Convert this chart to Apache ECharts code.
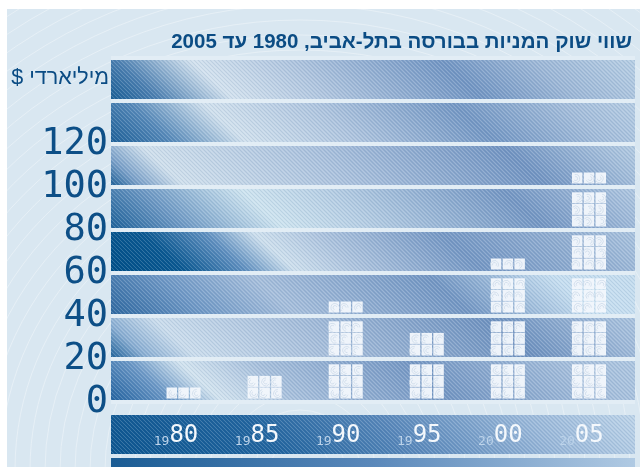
<!DOCTYPE html>
<html>
<head>
<meta charset="utf-8">
<script src="https://cdn.jsdelivr.net/npm/echarts@6/dist/echarts.min.js"></script>
<style>
html,body{margin:0;padding:0;background:#fff;}
#chart{width:640px;height:467px;}
</style>
</head>
<body>
<div id="chart" dir="rtl"></div>
<script>
// ---- data ----
const categories = ['1980', '1985', '1990', '1995', '2000', '2005'];
const values = [6, 12, 46, 33, 66, 106];
const yTicks = [0, 20, 40, 60, 80, 100, 120];
const titleText = 'שווי שוק המניות בבורסה בתל-אביב, 1980 עד 2005';
const unitText = 'מיליארדי $';

// ---- styling helpers ----
const G = echarts.graphic.LinearGradient;
function diag(stops) {
  return new G(0, 1, 0.537, -6.22, stops.map(s => ({offset: s[0], color: s[1]})));
}
const bandColors = [
  diag([[0,'#2363a0'],[0.1,'#6c98c6'],[0.18,'#d2e3ef'],[0.3,'#a8c0dc'],[0.55,'#7597c3'],[0.8,'#a5bedb'],[1,'#b3cbe3']]),
  diag([[0,'#1d6199'],[0.06,'#8aaed2'],[0.14,'#cadcec'],[0.35,'#a8bfdb'],[0.68,'#6f92bf'],[0.85,'#9fb9d8'],[1,'#b7cfe5']]),
  diag([[0,'#2e68a0'],[0.15,'#6f98c5'],[0.3,'#a6bedb'],[0.58,'#7497c3'],[0.78,'#c6def0'],[1,'#c2daec']]),
  diag([[0,'#004f88'],[0.12,'#0a5891'],[0.22,'#5f8fbf'],[0.3,'#cddfed'],[0.4,'#aec4de'],[0.6,'#7698c4'],[0.8,'#94b0d2'],[1,'#b9d0e6']]),
  diag([[0,'#1d6199'],[0.12,'#6d98c3'],[0.28,'#cde3ef'],[0.42,'#b5cde3'],[0.7,'#7597c3'],[0.85,'#9fb9d8'],[1,'#c3d8ea']]),
  diag([[0,'#1a5e96'],[0.05,'#7aa0c8'],[0.12,'#cfdfec'],[0.4,'#a9c0dc'],[0.7,'#7395c2'],[0.85,'#a2bcd9'],[1,'#c8ddec']]),
  diag([[0,'#1d6098'],[0.1,'#5588b8'],[0.22,'#d0e0ed'],[0.4,'#aec4de'],[0.62,'#7598c4'],[0.8,'#a4bdda'],[1,'#c0d6e9']]),
  diag([[0,'#195e95'],[0.08,'#4d80b1'],[0.2,'#d2e1ee'],[0.35,'#b1c6df'],[0.6,'#7396c3'],[0.75,'#9db7d6'],[1,'#c3d9ea']])
];

// fine diagonal hatch pattern
const pc = document.createElement('canvas');
pc.width = 4; pc.height = 4;
const pctx = pc.getContext('2d');
for (let i = 0; i < 4; i++) {
  pctx.fillStyle = 'rgba(255,255,255,0.18)';
  pctx.fillRect(i, i, 1, 1);
  pctx.fillStyle = 'rgba(0,40,90,0.07)';
  pctx.fillRect(i, (i + 2) % 4, 1, 1);
}
const hatch = {image: pc, repeat: 'repeat'};

// background arcs
const bgEls = [];
for (let r = 30; r < 760; r += 15) {
  bgEls.push({type: 'circle', z: -20, silent: true,
    shape: {cx: 300, cy: 470, r: r},
    style: {fill: null, stroke: 'rgba(255,255,255,0.35)', lineWidth: 1}});
}
bgEls.push({type: 'rect', z: -15, silent: true, shape: {x: 0, y: 0, width: 640, height: 9}, style: {fill: '#ffffff'}});
bgEls.push({type: 'rect', z: -15, silent: true, shape: {x: 0, y: 0, width: 7, height: 467}, style: {fill: '#ffffff'}});
// x-axis strip and bottom strip
bgEls.push({type: 'rect', z: -5, silent: true, shape: {x: 111, y: 415, width: 524, height: 39},
  style: {fill: diag([[0,'#0d5690'],[0.3,'#22659f'],[0.55,'#5b89bb'],[0.8,'#9ab8d9'],[1,'#bcd3e8']])}});
bgEls.push({type: 'rect', z: -4, silent: true, shape: {x: 111, y: 415, width: 524, height: 39}, style: {fill: hatch}});
bgEls.push({type: 'rect', z: -5, silent: true, shape: {x: 111, y: 458, width: 524, height: 20},
  style: {fill: new G(0, 0, 1, 0, [{offset: 0, color: '#1a5c94'}, {offset: 0.5, color: '#5a88ba'}, {offset: 1, color: '#b0cae3'}])}});

const chart = echarts.init(document.getElementById('chart'), null, {renderer: 'canvas'});
chart.setOption({
  backgroundColor: '#d9e7f1',
  animation: false,
  title: [
    {text: titleText, right: 8, top: 32, padding: 0,
     textStyle: {fontFamily: 'Liberation Sans, Arial, sans-serif', fontSize: 20.5, fontWeight: 'bold', color: '#0b4c84'}},
    {text: unitText, right: 531, top: 67, padding: 0,
     textStyle: {fontFamily: 'Liberation Sans, Arial, sans-serif', fontSize: 21.5, fontWeight: 'normal', color: '#0b4c84'}}
  ],
  graphic: bgEls,
  grid: [
    {left: 111, right: 5, top: 58, bottom: 65},
    {left: 143, right: 10.5, top: 58, bottom: 65}
  ],
  xAxis: [
    {gridIndex: 0, type: 'value', min: 0, max: 1, show: false},
    {gridIndex: 1, type: 'category', data: categories, boundaryGap: true,
     axisLine: {show: false}, axisTick: {show: false}, splitLine: {show: false},
     axisLabel: {
       margin: 35, verticalAlign: 'middle', padding: [0, 15, 0, 0],
       formatter: c => '{s|' + c.slice(0, 2) + '}{b|' + c.slice(2) + '}',
       rich: {
         s: {fontFamily: 'DejaVu Sans Mono, monospace', fontSize: 13, color: '#bcd3ea', verticalAlign: 'bottom', lineHeight: 22},
         b: {fontFamily: 'DejaVu Sans Mono, monospace', fontSize: 24, color: '#f4f8fc', verticalAlign: 'bottom', lineHeight: 22}
       }
     }}
  ],
  yAxis: [
    {gridIndex: 0, type: 'value', min: 0, max: 160, interval: 20,
     axisLine: {show: false}, axisTick: {show: false},
     axisLabel: {margin: 3, fontFamily: 'DejaVu Sans Mono, monospace', fontSize: 37, color: '#0d4f87',
                 formatter: v => yTicks.includes(v) ? String(v) : ''},
     splitLine: {show: true, lineStyle: {color: '#e2edf5', width: 4}},
     splitArea: {show: true, areaStyle: {color: bandColors}}},
    {gridIndex: 1, type: 'value', min: 0, max: 160, interval: 20, show: false},
    {gridIndex: 0, type: 'value', min: 0, max: 160, interval: 20, z: 1,
     axisLine: {show: false}, axisTick: {show: false}, axisLabel: {show: false},
     splitLine: {show: true, lineStyle: {color: '#e2edf5', width: 4}},
     splitArea: {show: true, areaStyle: {color: [hatch]}}}
  ],
  series: [{
    type: 'custom',
    xAxisIndex: 1, yAxisIndex: 1,
    z: 5,
    data: values.map((v, i) => [i, v]),
    encode: {x: 0, y: 1},
    renderItem: function (params, api) {
      const idx = api.value(0), v = api.value(1);
      const cx = api.coord([idx, 0])[0];
      const bandPx = api.size([0, 20])[1];
      const catW = api.size([1, 0])[0];
      const w = catW * 34 / 81;
      const gap = 1.3;
      const cw = (w - 2 * gap) / 3;
      const rowH = bandPx * 11 / 43, rowStep = bandPx * 11.6 / 43, inset = bandPx * 3.5 / 43;
      const rows = Math.round(v / (20 / 3));
      const children = [];
      for (let r = 0; r < rows; r++) {
        const b = Math.floor(r / 3), k = r % 3;
        const yb = api.coord([idx, 20 * b])[1];
        const bottom = yb - inset - k * rowStep;
        for (let c = 0; c < 3; c++) {
          const x = cx - w / 2 + c * (cw + gap);
          const y = bottom - rowH;
          children.push({type: 'rect', shape: {x: x, y: y, width: cw, height: rowH},
            style: {fill: 'rgba(243,247,252,0.96)'}});
          const ax = x + cw * (((r + c) % 2) ? 0.35 : 0.6), ay = y + rowH * 0.55;
          [2, 4].forEach(rr => children.push({type: 'arc',
            shape: {cx: ax, cy: ay, r: rr, startAngle: 0.3 * (r + c), endAngle: 0.3 * (r + c) + 4.2},
            style: {fill: null, stroke: '#cddbea', lineWidth: 0.8}}));
        }
      }
      return {type: 'group', children: children};
    }
  }]
});
</script>
</body>
</html>
